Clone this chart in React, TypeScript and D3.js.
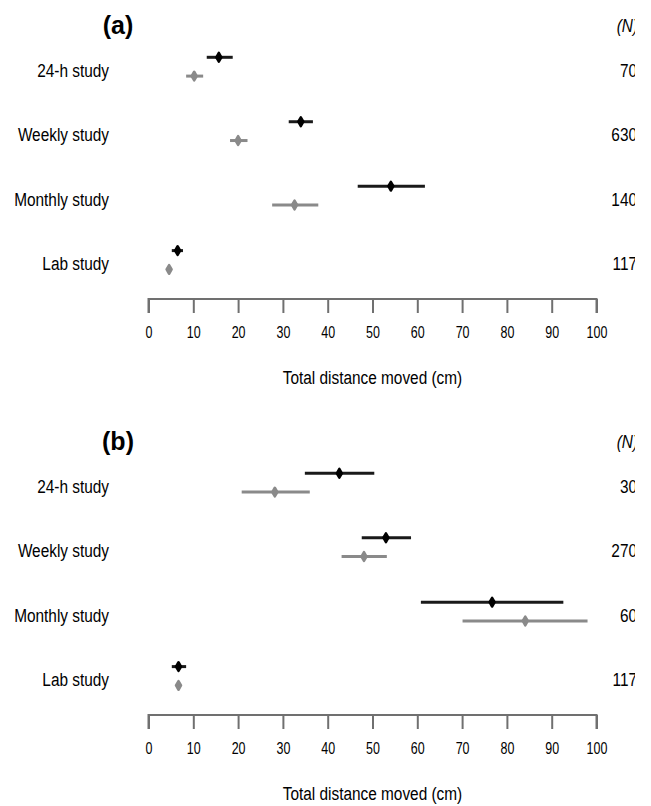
import { useEffect, useRef } from 'react'
import * as d3 from 'd3'

const categories = ['24-h study', 'Weekly study', 'Monthly study', 'Lab study']
const ticks = [0, 10, 20, 30, 40, 50, 60, 70, 80, 90, 100]

// panel (a)
const aBlackMean = [15.7, 34.0, 54.1, 6.5]
const aBlackLo = [13.0, 31.3, 46.7, 5.2]
const aBlackHi = [18.8, 36.7, 61.7, 7.7]
const aGreyMean = [10.2, 20.0, 32.6, 4.6]
const aGreyLo = [8.4, 18.2, 27.6, 4.5]
const aGreyHi = [12.2, 22.1, 37.9, 4.7]
const aN = ['70', '630', '140', '117']

// panel (b)
const bBlackMean = [42.6, 53.0, 76.7, 6.7]
const bBlackLo = [34.9, 47.6, 60.8, 5.2]
const bBlackHi = [50.4, 58.6, 92.6, 8.4]
const bGreyMean = [28.2, 48.1, 84.1, 6.7]
const bGreyLo = [20.8, 43.1, 70.1, 6.6]
const bGreyHi = [36.0, 53.2, 98.0, 6.8]
const bN = ['30', '270', '60', '117']

const sans = '"Liberation Sans", Arial, sans-serif'
const squeeze = 0.81 // no narrow face installed, so squash Liberation Sans

const App = () => {
  const ref = useRef<SVGSVGElement>(null)

  useEffect(() => {
    const width = 651
    const height = 806
    const svg = d3.select(ref.current)
    svg.selectAll('*').remove()
    svg.attr('width', width).attr('height', height)

    svg.append('defs').append('clipPath').attr('id', 'rightclip')
      .append('rect').attr('x', 0).attr('y', 0).attr('width', 635).attr('height', height)

    const x = d3.scaleLinear().domain([0, 100]).range([148.5, 596.5])

    const panels = [
      { tag: '(a)', top: 0, n: aN,
        black: { mean: aBlackMean, lo: aBlackLo, hi: aBlackHi },
        grey: { mean: aGreyMean, lo: aGreyLo, hi: aGreyHi } },
      { tag: '(b)', top: 416, n: bN,
        black: { mean: bBlackMean, lo: bBlackLo, hi: bBlackHi },
        grey: { mean: bGreyMean, lo: bGreyLo, hi: bGreyHi } },
    ]

    const diamond = d3.symbol().type(d3.symbolDiamond).size(22)

    panels.forEach(p => {
      const g = svg.append('g').attr('transform', `translate(0,${p.top})`)
      const y = d3.scalePoint().domain(categories).range([66.7, 260])

      g.append('text')
        .attr('x', 118).attr('y', 25).attr('dy', '0.35em')
        .attr('text-anchor', 'middle')
        .style('font-family', sans)
        .style('font-weight', 'bold').style('font-size', '25px')
        .text(p.tag)

      const right = g.append('g').attr('clip-path', 'url(#rightclip)')
      right.append('text')
        .attr('transform', `translate(638,25) scale(${squeeze},1)`)
        .attr('dy', '0.35em')
        .attr('text-anchor', 'end')
        .style('font-family', sans).style('font-style', 'italic').style('font-size', '19px')
        .text('(N)')

      right.selectAll('.nlab')
        .data(p.n)
        .enter()
        .append('text')
        .attr('class', 'nlab')
        .attr('transform', (d, i) => `translate(637,${(y(categories[i]) as number) + 3.3}) scale(${squeeze},1)`)
        .attr('dy', '0.35em')
        .attr('text-anchor', 'end')
        .style('font-family', sans).style('font-size', '19px')
        .text(d => d)

      g.selectAll('.cat')
        .data(categories)
        .enter()
        .append('text')
        .attr('class', 'cat')
        .attr('transform', d => `translate(109,${(y(d) as number) + 3.3}) scale(${squeeze},1)`)
        .attr('dy', '0.35em')
        .attr('text-anchor', 'end')
        .style('font-family', sans).style('font-size', '19px')
        .text(d => d)

      const series = [
        { s: p.black, color: '#000000', dy: -9.4 },
        { s: p.grey, color: '#8a8a8a', dy: 9.4 },
      ]
      series.forEach(({ s, color, dy }) => {
        g.selectAll(null)
          .data(categories)
          .enter()
          .append('line')
          .attr('x1', (d, i) => x(s.lo[i]))
          .attr('x2', (d, i) => x(s.hi[i]))
          .attr('y1', d => (y(d) as number) + dy)
          .attr('y2', d => (y(d) as number) + dy)
          .attr('stroke', color === '#000000' ? '#1a1a1a' : color)
          .attr('stroke-width', 3)

        g.selectAll(null)
          .data(categories)
          .enter()
          .append('path')
          .attr('d', diamond() as string)
          .attr('transform', (d, i) => `translate(${x(s.mean[i])},${(y(d) as number) + dy})`)
          .attr('fill', color)
          .attr('stroke', color)
          .attr('stroke-width', 2.5)
          .attr('stroke-linejoin', 'round')
      })

      const axisY = 299
      const axis = g.append('g')
        .attr('transform', `translate(0,${axisY})`)
        .call(d3.axisBottom(x).tickValues(ticks).tickSize(14).tickSizeOuter(14).tickPadding(14))
      axis.select('.domain').attr('stroke', '#707070').attr('stroke-width', 2)
        .attr('d', `M${x(0)},14V0H${x(100)}V14`)
      axis.selectAll('.tick line').attr('stroke', '#707070').attr('stroke-width', 2)
      axis.selectAll('.tick text')
        .attr('fill', '#000')
        .attr('transform', `scale(0.78,1)`)
        .style('font-family', sans).style('font-size', '16px')

      g.append('text')
        .attr('transform', `translate(${x(50)},${axisY + 78}) scale(${squeeze},1)`)
        .attr('dy', '0.35em')
        .attr('text-anchor', 'middle')
        .style('font-family', sans).style('font-size', '19px')
        .text('Total distance moved (cm)')
    })
  }, [])

  return (
    <div style={{ position: 'absolute', left: 0, top: 0, background: '#fff' }}>
      <svg ref={ref}></svg>
    </div>
  )
}

export default App
